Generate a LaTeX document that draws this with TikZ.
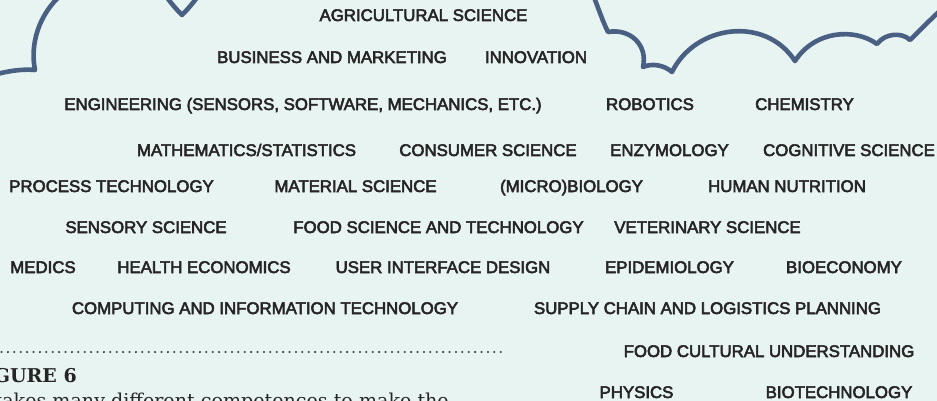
\documentclass[tikz,border=0pt]{standalone}
\usepackage{fontspec}
\usepackage{graphicx}
\newfontfamily\lblfont[FakeBold=3.2]{Liberation Sans}
\newfontfamily\capfont{DejaVu Serif}
\definecolor{bg}{HTML}{E7F4F2}
\definecolor{cloudc}{HTML}{4A6083}
\definecolor{txt}{HTML}{262425}
\definecolor{dotc}{HTML}{3A3A3A}
\tikzset{
  lbl/.style={font=\lblfont\fontsize{16.8}{20}\selectfont, text=txt, inner sep=0pt, anchor=base},
  cloudline/.style={draw=cloudc, line width=4.6pt, line join=round},
  dotline/.style={draw=dotc, line width=2.3pt, line cap=round, dash pattern=on 0pt off 6.4pt},
}
\begin{document}
\begin{tikzpicture}[x=1pt,y=-1pt]
\fill[bg] (0,0) rectangle (937,401);
\useasboundingbox (0,0) rectangle (937,401);
% cloud outline
\draw[cloudline] (-10,76) .. controls (10,70) and (25,69) .. (35,70)
  .. controls (30,45) and (38,15) .. (62,-6);
\draw[cloudline] (163,-8) .. controls (170,2) and (176,9) .. (182,15)
  .. controls (188,9) and (194,2) .. (201,-8);
\draw[cloudline] (592,-8) .. controls (599,10) and (603,22) .. (608,32)
  .. controls (630,28) and (648,45) .. (643,67)
  .. controls (652,63) and (664,65) .. (672,72)
  .. controls (695,25) and (765,15) .. (795,61)
  .. controls (815,30) and (855,28) .. (877,44)
  .. controls (885,33) and (902,32) .. (910,40)
  .. controls (920,30) and (930,20) .. (945,6);
% labels
\node[lbl] (agri) at (423.5,21) {AGRICULTURAL SCIENCE};
\node[lbl] (busi) at (332,63) {BUSINESS AND MARKETING};
\node[lbl] (inno) at (536,63) {INNOVATION};
\node[lbl] (engi) at (303,110) {ENGINEERING (SENSORS, SOFTWARE, MECHANICS, ETC.)};
\node[lbl] (robo) at (650,110) {ROBOTICS};
\node[lbl] (chem) at (804.5,110) {CHEMISTRY};
\node[lbl] (math) at (246.5,156) {MATHEMATICS/STATISTICS};
\node[lbl] (cons) at (488,156) {CONSUMER SCIENCE};
\node[lbl] (enzy) at (669.5,156) {ENZYMOLOGY};
\node[lbl] (cogn) at (849,156) {COGNITIVE SCIENCE};
\node[lbl] (proc) at (111.5,192) {PROCESS TECHNOLOGY};
\node[lbl] (mate) at (355.5,192) {MATERIAL SCIENCE};
\node[lbl] (micr) at (571.5,192) {(MICRO)BIOLOGY};
\node[lbl] (huma) at (787,192) {HUMAN NUTRITION};
\node[lbl] (sens) at (146,233) {SENSORY SCIENCE};
\node[lbl] (fsci) at (438.5,233) {FOOD SCIENCE AND TECHNOLOGY};
\node[lbl] (vete) at (707.5,233) {VETERINARY SCIENCE};
\node[lbl] (medi) at (43,273) {MEDICS};
\node[lbl] (heal) at (204,273) {HEALTH ECONOMICS};
\node[lbl] (user) at (443,273) {USER INTERFACE DESIGN};
\node[lbl] (epid) at (669.5,273) {EPIDEMIOLOGY};
\node[lbl] (bioe) at (844,273) {BIOECONOMY};
\node[lbl] (comp) at (265,314) {COMPUTING AND INFORMATION TECHNOLOGY};
\node[lbl] (supp) at (707.5,314) {SUPPLY CHAIN AND LOGISTICS PLANNING};
\node[lbl] (fcul) at (769,357) {FOOD CULTURAL UNDERSTANDING};
\node[lbl] (phys) at (636.5,398) {PHYSICS};
\node[lbl] (biot) at (839,398) {BIOTECHNOLOGY};
% caption fragment
\coordinate (dl) at (1.5,352);
\coordinate (dr) at (507,352);
\draw[dotline] (dl) -- (dr);
\node[font=\capfont\bfseries\fontsize{19}{22}\selectfont, text=txt, inner sep=0pt, anchor=base east] (fig) at (77,382) {FIGURE 6};
\node[font=\capfont\fontsize{19.1}{22}\selectfont, text=txt, inner sep=0pt, anchor=base east] (body) at (449,407) {It takes many different competences to make the};
\end{tikzpicture}
\end{document}
